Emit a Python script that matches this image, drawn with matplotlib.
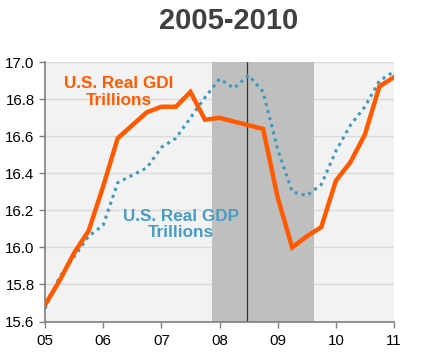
import matplotlib
matplotlib.use('Agg')
import matplotlib.pyplot as plt

plt.rcParams['font.family'] = ['Liberation Sans', 'DejaVu Sans']

# quarterly points, 2005 Q1 .. 2011 Q1
quarters = [2005 + i * 0.25 for i in range(25)]
gdi = [15.69, 15.82, 15.97, 16.09, 16.33, 16.59, 16.66, 16.73, 16.76, 16.76,
       16.84, 16.69, 16.70, 16.68, 16.66, 16.64, 16.27, 16.00, 16.06, 16.11,
       16.36, 16.46, 16.61, 16.87, 16.92]
gdp = [15.67, 15.84, 15.95, 16.06, 16.12, 16.35, 16.39, 16.43, 16.54, 16.59,
       16.70, 16.81, 16.91, 16.86, 16.93, 16.84, 16.53, 16.30, 16.28, 16.34,
       16.52, 16.66, 16.76, 16.90, 16.95]
year_ticks = [2005, 2006, 2007, 2008, 2009, 2010, 2011]
year_labels = ['05', '06', '07', '08', '09', '10', '11']
y_ticks = [15.6, 15.8, 16.0, 16.2, 16.4, 16.6, 16.8, 17.0]
recession = (2007.875, 2009.62)
marker_year = 2008.48

fig = plt.figure(figsize=(4.24, 3.62), dpi=100)
ax = fig.add_axes([45 / 424, 1 - 321.5 / 362, 349 / 424, 259.2 / 362])
ax.set_facecolor('#f2f2f2')

ax.axvspan(recession[0], recession[1], color='#bfbfbf', zorder=1, lw=0)
ax.axvline(marker_year, color='#333333', lw=0.9, zorder=2)
ax.plot(quarters, gdp, color='#3d97be', lw=2.2, linestyle=(0, (1, 1.4)), zorder=3)
ax.plot(quarters, gdi, color='#ff5a00', lw=3.2, solid_joinstyle='miter', zorder=4)

ax.set_xlim(2005, 2011)
ax.set_ylim(15.6, 17.0)
ax.set_xticks(year_ticks)
ax.set_xticklabels(year_labels)
ax.set_yticks(y_ticks)
ax.set_yticklabels(['%.1f' % v for v in y_ticks])
ax.yaxis.grid(True, color='#d9d9d9', lw=1, zorder=0)
ax.set_axisbelow(True)
ax.tick_params(axis='both', labelsize=10.8, colors='#7f7f7f', labelcolor='black', length=4, width=1)
ax.tick_params(axis='x', pad=5)
for side in ['top', 'right']:
    ax.spines[side].set_visible(False)
for side in ['left', 'bottom']:
    ax.spines[side].set_color('#7f7f7f')
    ax.spines[side].set_linewidth(1.2)

ax.text(2006.27, 16.84, 'U.S. Real GDI\nTrillions', color='#ff5a00', fontsize=12.3,
        fontweight='bold', ha='center', va='center', linespacing=1.12, zorder=5)
ax.text(2007.33, 16.125, 'U.S. Real GDP\nTrillions', color='#4a9bc2', fontsize=12.3,
        fontweight='bold', ha='center', va='center', linespacing=1.12, zorder=5)

fig.text(228.5 / 424, 1 - 21 / 362, '2005-2010', fontsize=21, fontweight='bold',
         color='#404040', ha='center', va='center')

fig.savefig('out.png', dpi=100)
